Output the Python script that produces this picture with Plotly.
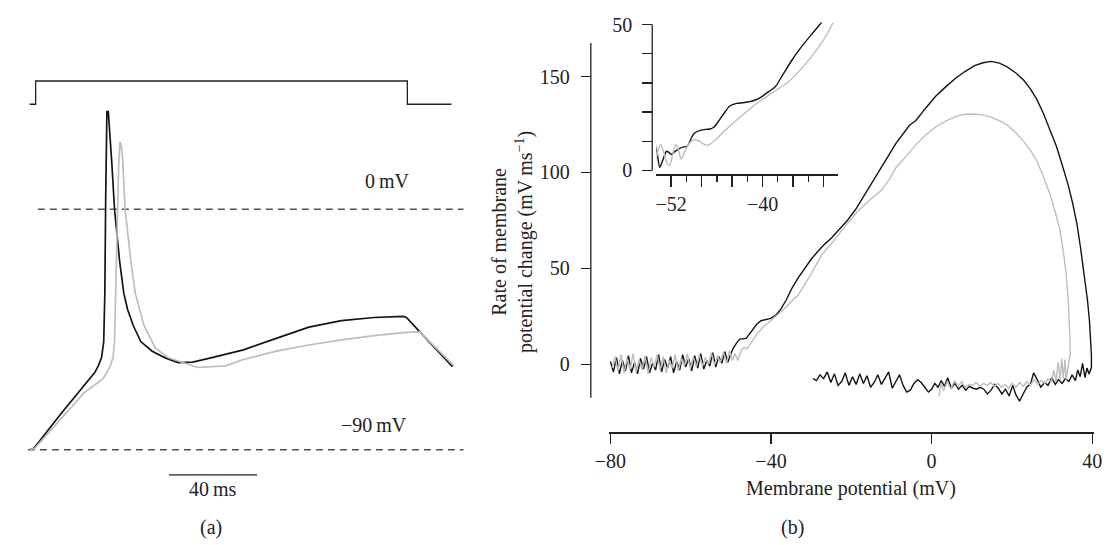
import plotly.graph_objects as go

W, H = 1111, 545


def px_x(p):
    return p / W


def px_y(p):
    return 1 - p / H


# ---------------- Panel (a): membrane potential traces ----------------
time_black = [0.0, 1.9, 14.1, 24.0, 29.6, 31.1, 32.6, 33.6, 34.1, 34.5, 34.8, 35.1, 35.6, 36.3,
              37.3, 38.5, 40.8, 42.7, 44.4, 47.0, 50.4, 55.6, 61.5, 67.4, 74.0, 82.2, 97.0,
              111.9, 126.7, 141.5, 156.3, 169.6, 171.1, 181.5, 191.9]
vm_black = [-90.0, -89.4, -76.6, -66.6, -61.0, -58.6, -55.6, -49.5, -31.4, 4.9, 35.0, 39.7, 37.5, 30.0,
            16.9, 0.0, -19.3, -31.4, -37.4, -43.5, -49.5, -53.1, -55.6, -57.4, -57.2, -55.6, -52.6,
            -48.3, -44.1, -41.7, -40.5, -40.1, -40.6, -49.8, -58.9]

time_gray = [0.0, 2.2, 14.1, 24.4, 33.3, 36.3, 37.8, 38.5, 39.2, 39.9, 40.4, 41.0, 41.6, 42.2,
             43.3, 45.9, 47.9, 51.9, 57.0, 63.0, 76.3, 89.0, 97.0, 111.9, 126.7, 141.5, 156.3,
             171.1, 177.0, 180.0, 192.6]
vm_gray = [-90.0, -89.5, -78.5, -68.9, -63.4, -59.2, -55.6, -49.5, -25.4, 4.9, 16.9, 25.2, 23.5, 18.5,
           0.0, -19.3, -31.4, -43.5, -51.9, -55.6, -59.2, -58.6, -56.2, -53.1, -50.8, -48.9, -47.3,
           -46.1, -45.9, -48.3, -58.6]

# stimulus step (arbitrary units)
stim_time = [0.0, 2.7, 2.7, 171.4, 171.4, 191.4]
stim_level = [0, 0, 1, 1, 0, 0]

# reference levels (mV)
ref0_time = [3.7, 196.9]
ref0_vm = [0, 0]
ref90_time = [-0.8, 196.9]
ref90_vm = [-90, -90]

# scale bar (ms)
bar_time = [63.2, 103.2]
bar_vm = [-99.4, -99.4]

# ---------------- Panel (b): phase plot ----------------
noise_v_black = [-80.0, -79.25, -78.5, -77.75, -77.0, -76.25, -75.5, -74.75, -74.0, -73.25, -72.5,
                 -71.75, -71.0, -70.25, -69.5, -68.75, -68.0, -67.25, -66.5, -65.75, -65.0, -64.25,
                 -63.5, -62.75, -62.0, -61.25, -60.5, -59.75, -59.0, -58.25, -57.5, -56.75, -56.0,
                 -55.25, -54.5, -53.75, -53.0, -52.25, -51.5, -50.75, -50.0]
noise_dv_black = [1.5, -4.0, 3.5, -5.0, 2.0, -3.5, 4.5, -4.5, 1.0, -5.0, 3.0, -2.5, 4.0, -4.5, 0.5,
                  -3.0, 5.0, -4.0, 2.5, -2.0, 4.0, -4.5, 1.5, -3.0, 5.0, -1.5, 3.0, -3.5, 4.5, -2.0,
                  5.5, -2.5, 2.0, -1.0, 6.0, -1.5, 4.0, 0.5, 6.5, 1.0, 5.5]
rise_v_black = [-49.4, -48.6, -47.8, -46.2, -44.6, -43.5, -42.5, -41.3, -40.1, -38.8, -37.6, -36.2,
                -34.8, -33.2, -31.5, -29.9, -28.3, -26.7, -25.0, -23.0, -21.0, -18.9, -16.9, -14.4,
                -12.0, -8.8, -5.5, -3.9, -1.5, 1.0, 3.5, 5.9, 8.3, 10.7, 12.8, 14.8, 16.9, 18.9,
                20.9, 22.9, 24.6, 26.2, 27.8, 29.4, 31.1, 32.7, 34.0, 35.1, 36.2, 37.1, 38.0, 38.8,
                39.3, 39.6, 39.8, 39.8, 39.2]
rise_dv_black = [8.4, 11.0, 13.1, 13.5, 17.7, 21.0, 22.7, 23.5, 23.9, 25.6, 28.6, 33.5,
                 39.6, 45.2, 50.5, 55.0, 58.9, 62.5, 65.7, 70.2, 74.9, 80.8, 87.6, 96.0,
                 104.4, 115.4, 124.6, 127.1, 133.5, 139.7, 144.6, 149.0, 152.6, 155.7, 157.2, 157.9,
                 157.0, 154.9, 152.0, 148.2, 143.6, 138.1, 131.0, 122.9, 113.5, 102.7, 93.5, 84.2,
                 73.0, 60.6, 47.0, 33.7, 23.0, 13.5, 5.0, -1.7, -5.1]
ret_v_black = [38.7, 38.2, 37.6, 37.0, 36.4, 35.8, 35.0, 34.2, 33.3, 32.5, 31.6, 30.8, 29.9, 29.0,
               28.1, 27.2, 26.3, 25.4, 24.6, 23.7, 22.8, 21.9, 21.0, 20.2, 19.3, 18.4, 17.5, 16.6,
               15.7, 14.8, 13.9, 13.0, 12.1, 11.2, 10.3, 9.4, 8.5, 7.6, 6.7, 5.8, 4.9, 4.0, 3.2,
               2.4, 1.6, 0.8, 0.0, -0.8, -1.7, -2.6, -3.5, -4.4, -5.3, -6.2, -7.1, -8.0, -8.9,
               -9.8, -10.7, -11.6, -12.5, -13.4, -14.3, -15.2, -16.1, -17.0, -17.9, -18.8, -19.7,
               -20.6, -21.5, -22.4, -23.3, -24.2, -25.1, -26.0, -26.9, -27.8, -28.7, -29.5]
ret_dv_black = [-2.0, -7.0, 0.5, -6.5, -3.0, -8.5, -5.5, -9.0, -7.5, -10.0, -8.0, -10.5, -7.0, -11.0,
                -9.5, -12.0, -8.0, -4.5, -10.5, -12.0, -15.5, -19.2, -16.0, -11.0, -16.5, -13.0,
                -15.5, -12.5, -10.5, -13.5, -15.5, -13.0, -12.0, -13.0, -12.5, -11.5, -13.5, -11.0,
                -13.0, -10.0, -12.5, -7.0, -11.5, -8.5, -12.0, -10.0, -13.0, -14.5, -12.0, -9.5,
                -8.0, -10.0, -13.5, -14.5, -11.0, -5.5, -9.0, -12.5, -4.0, -7.5, -10.5, -5.5, -9.5,
                -12.0, -6.0, -10.0, -5.0, -10.5, -6.5, -11.0, -4.5, -9.0, -11.0, -5.0, -9.5, -4.0,
                -7.5, -5.5, -8.5, -7.5]

noise_v_gray = [-79.6, -78.85, -78.1, -77.35, -76.6, -75.85, -75.1, -74.35, -73.6, -72.85, -72.1,
                -71.35, -70.6, -69.85, -69.1, -68.35, -67.6, -66.85, -66.1, -65.35, -64.6, -63.85,
                -63.1, -62.35, -61.6, -60.85, -60.1, -59.35, -58.6, -57.85, -57.1, -56.35, -55.6,
                -54.85, -54.1, -53.35, -52.6, -51.85, -51.1, -50.35, -49.6]
noise_dv_gray = [-2.0, 4.0, -3.5, 5.0, -4.5, 3.0, -2.5, 5.5, -4.0, 2.5, -3.0, 4.5, -5.0, 3.5, -1.5,
                 5.0, -3.0, 4.0, -4.5, 2.0, -2.0, 5.0, -3.5, 3.0, -1.0, 5.5, -2.5, 4.0, -1.5, 5.0,
                 -1.0, 3.5, 0.0, 6.0, -0.5, 4.5, 1.0, 6.5, 0.5, 7.0, 2.0]
rise_v_gray = [-49.0, -48.2, -47.4, -46.6, -46.0, -45.0, -43.7, -42.1, -40.5, -38.5, -36.4, -34.8,
               -33.2, -31.5, -29.9, -27.3, -24.5, -21.5, -18.5, -15.5, -12.4, -10.5, -8.8, -6.3,
               -3.9, -1.5, 1.0, 3.5, 5.9, 8.2, 10.5, 12.7, 14.8, 16.9, 18.9, 20.9, 22.9, 24.6,
               26.2, 27.8, 29.4, 30.7, 31.9, 32.8, 33.5, 34.0, 34.3, 34.5, 34.5, 33.9]
rise_dv_gray = [5.5, 2.0, 7.5, 8.8, 8.0, 11.0, 15.2, 19.0, 21.9, 25.5, 29.5, 33.0,
                36.2, 42.0, 47.5, 57.3, 64.0, 72.0, 79.5, 85.5, 90.9, 96.5, 102.7, 108.5,
                114.5, 119.5, 123.7, 126.8, 129.1, 130.3, 130.5, 130.0, 128.8, 127.0, 124.6, 120.8,
                116.2, 111.5, 106.1, 98.0, 89.2, 80.0, 70.7, 59.0, 47.2, 34.0, 21.9, 12.0, 5.1, -3.4]
ret_v_gray = [33.5, 33.2, 32.8, 32.4, 32.0, 31.5, 31.0, 30.4, 29.8, 29.0, 28.2, 27.3, 26.4, 25.5,
              24.6, 23.7, 22.8, 21.9, 21.0, 20.1, 19.2, 18.3, 17.4, 16.5, 15.6, 14.7, 13.8, 12.9,
              12.0, 11.1, 10.2, 9.3, 8.4, 7.5, 6.6, 5.7, 4.8, 3.9, 3.0, 2.4, 1.8]
ret_dv_gray = [-8.0, 2.5, -7.5, 3.0, -8.0, 1.0, -9.0, -3.0, -9.5, -7.5, -10.0, -8.5, -10.5, -8.0,
               -11.0, -9.0, -11.5, -9.5, -12.0, -10.0, -12.5, -10.5, -12.0, -10.0, -11.5, -9.5,
               -11.0, -10.0, -11.5, -9.5, -11.0, -10.5, -12.0, -9.0, -11.5, -8.5, -13.0, -9.0,
               -14.0, -10.0, -16.8]

# inset (expanded view of the threshold region)
inset_v_black = [-54.1, -53.8, -53.5, -53.1, -52.6, -52.3, -52.0, -51.6, -51.1, -50.5, -49.9, -49.4,
                 -49.0, -48.1, -47.4, -46.9, -46.4, -46.0, -45.2, -44.3, -43.4, -42.6, -41.9, -41.3,
                 -40.6, -40.0, -39.2, -38.3, -37.3, -36.2, -35.0, -33.7, -32.4, -31.5]
inset_dv_black = [9.2, 5.5, 1.1, 3.5, 6.6, 6.2, 5.5, 6.3, 7.2, 8.0, 8.3, 10.8, 12.7, 13.8, 14.1,
                  14.2, 14.8, 16.1, 19.0, 22.1, 23.0, 23.2, 23.5, 23.8, 24.5, 25.5, 27.0, 28.8,
                  33.0, 37.6, 42.0, 46.2, 50.3, 53.0]
inset_v_gray = [-54.1, -53.8, -53.4, -53.0, -52.6, -52.2, -51.8, -51.4, -51.0, -50.7, -50.2, -49.6,
                -49.0, -48.3, -47.7, -47.2, -46.4, -45.3, -43.9, -42.4, -40.9, -38.8, -36.6, -34.7,
                -32.7, -31.6, -30.8, -30.3]
inset_dv_gray = [2.2, 6.0, 8.9, 6.5, 3.0, 1.7, 5.5, 8.9, 6.8, 3.9, 6.5, 9.4, 10.5, 10.1, 9.0, 8.6,
                 10.0, 12.8, 16.1, 19.5, 22.7, 26.5, 30.4, 35.5, 42.0, 46.5, 50.3, 52.5]

main_ticks = [-80, -40, 0, 40]
main_tick_text = ["\u221280", "\u221240", "0", "40"]
dv_ticks = [0, 50, 100, 150]
inset_x_major = [-52, -48, -44, -40, -36, -32]
inset_x_text = ["\u221252", " ", " ", "\u221240", " ", " "]
inset_x_minor = [-50, -46, -42, -38, -34]
inset_y_ticks = [0, 10, 20, 30, 40, 50]
inset_y_text = ["0", " ", " ", " ", " ", "50"]

BLACK = "#141414"
GRAY = "#bdbdbd"
INK = "#222222"
FONT = "Liberation Serif"

fig = go.Figure()

# panel (a)
fig.add_trace(go.Scatter(x=stim_time, y=stim_level, xaxis="x", yaxis="y3", mode="lines",
                         line=dict(color=INK, width=1.3), hoverinfo="skip"))
fig.add_trace(go.Scatter(x=ref0_time, y=ref0_vm, xaxis="x", yaxis="y", mode="lines",
                         line=dict(color="#555555", width=1.5, dash="7px,5px"), hoverinfo="skip"))
fig.add_trace(go.Scatter(x=ref90_time, y=ref90_vm, xaxis="x", yaxis="y", mode="lines",
                         line=dict(color="#555555", width=1.5, dash="7px,5px"), hoverinfo="skip"))
fig.add_trace(go.Scatter(x=time_black, y=vm_black, xaxis="x", yaxis="y", mode="lines",
                         line=dict(color=BLACK, width=1.7)))
fig.add_trace(go.Scatter(x=time_gray, y=vm_gray, xaxis="x", yaxis="y", mode="lines",
                         line=dict(color=GRAY, width=1.7)))
fig.add_trace(go.Scatter(x=bar_time, y=bar_vm, xaxis="x", yaxis="y", mode="lines",
                         line=dict(color=INK, width=1.3), hoverinfo="skip"))

# panel (b)
fig.add_trace(go.Scatter(x=noise_v_black + rise_v_black + ret_v_black,
                         y=noise_dv_black + rise_dv_black + ret_dv_black,
                         xaxis="x2", yaxis="y2", mode="lines", line=dict(color=BLACK, width=1.4)))
fig.add_trace(go.Scatter(x=noise_v_gray + rise_v_gray + ret_v_gray,
                         y=noise_dv_gray + rise_dv_gray + ret_dv_gray,
                         xaxis="x2", yaxis="y2", mode="lines", line=dict(color=GRAY, width=1.4)))

# inset
fig.add_trace(go.Scatter(x=inset_v_black, y=inset_dv_black, xaxis="x3", yaxis="y4", mode="lines",
                         line=dict(color=BLACK, width=1.4, shape="spline", smoothing=0.8)))
fig.add_trace(go.Scatter(x=inset_v_gray, y=inset_dv_gray, xaxis="x3", yaxis="y4", mode="lines",
                         line=dict(color=GRAY, width=1.4, shape="spline", smoothing=0.8)))

tickfont = dict(family=FONT, size=20, color=INK)


def note(text, x, y, ref="paper", angle=0):
    return dict(x=x, y=y, xref="paper" if ref == "paper" else "x",
                yref="paper" if ref == "paper" else "y", text=text, showarrow=False,
                xanchor="center", yanchor="middle", textangle=angle)


fig.update_layout(
    width=W, height=H, autosize=False,
    margin=dict(l=0, r=0, t=0, b=0, pad=0),
    paper_bgcolor="white", plot_bgcolor="white",
    showlegend=False,
    font=dict(family=FONT, size=20, color=INK),
    xaxis=dict(domain=[0, px_x(460)], range=[-6.667, 197.78], visible=False, fixedrange=True),
    yaxis=dict(domain=[px_y(500), px_y(60)], range=[-106.31, 53.17], visible=False,
               anchor="x", fixedrange=True),
    yaxis3=dict(domain=[px_y(105), px_y(65)], range=[-0.279, 1.3875], visible=False,
                anchor="x", fixedrange=True),
    xaxis2=dict(domain=[px_x(607), px_x(1102)], range=[-80.24, 40.49], anchor="free",
                position=px_y(437), showline=True, linecolor=INK, linewidth=1.3,
                ticks="outside", ticklen=10, tickwidth=1.3, tickcolor=INK,
                tickvals=main_ticks, ticktext=main_tick_text, tickfont=tickfont,
                showgrid=False, zeroline=False),
    yaxis2=dict(domain=[px_y(420), px_y(30)], range=[-26.92, 170.05], anchor="free",
                position=px_x(588), showline=False, ticks="outside", ticklen=10,
                tickwidth=1.3, tickcolor=INK, tickvals=dv_ticks, tickfont=tickfont,
                ticklabelstandoff=7, showgrid=False, zeroline=False),
    xaxis3=dict(domain=[px_x(655), px_x(840)], range=[-53.93, -30.15], anchor="free",
                position=px_y(170.7), showline=True, linecolor=INK, linewidth=1.3,
                ticks="outside", ticklen=11, tickwidth=1.3, tickcolor=INK,
                tickvals=inset_x_major, ticktext=inset_x_text, tickfont=tickfont,
                minor=dict(tickvals=inset_x_minor, ticks="outside", ticklen=6, tickwidth=1.3,
                           tickcolor=INK, showgrid=False),
                showgrid=False, zeroline=False),
    yaxis4=dict(domain=[px_y(170), px_y(14)], range=[-1.1, 50.68], anchor="free",
                position=px_x(650.7), showline=False, ticks="outside", ticklen=10,
                tickwidth=1.3, tickcolor=INK, tickvals=inset_y_ticks, ticktext=inset_y_text,
                tickfont=tickfont, ticklabelstandoff=6, showgrid=False, zeroline=False),
    shapes=[
        dict(type="line", xref="paper", yref="y2", x0=px_x(588), x1=px_x(588),
             y0=-17.4, y1=167.5, line=dict(color=INK, width=1.3)),
        dict(type="line", xref="paper", yref="y4", x0=px_x(650.7), x1=px_x(650.7),
             y0=0, y1=50, line=dict(color=INK, width=1.3)),
    ],
    annotations=[
        note("0\u2009mV", 162.2, 10.4, ref="data"),
        note("\u221290\u2009mV", 156.3, -80.9, ref="data"),
        note("40\u2009ms", 83.2, -104.5, ref="data"),
        note("(a)", px_x(200), px_y(535)),
        note("(b)", px_x(794), px_y(535)),
        note("Membrane potential (mV)", px_x(854), px_y(495)),
        note("Rate of membrane<br>potential change (mV\u2009ms<sup>\u22121</sup>)",
             px_x(508), px_y(240), angle=-90),
    ],
)

fig.write_html("out.html",
               config={"displayModeBar": False, "staticPlot": True},
               post_script="document.body.style.margin='0px';document.body.style.overflow='hidden';")
